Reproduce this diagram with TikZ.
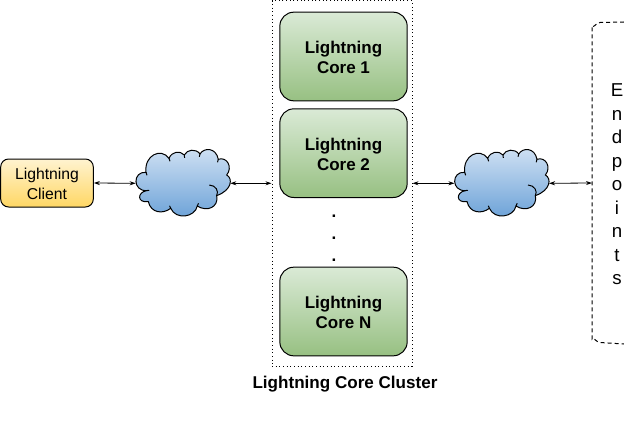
\documentclass[tikz,border=0pt]{standalone}
\usepackage{fontspec}
\setmainfont{Liberation Sans}
\usepackage{xcolor}
\usetikzlibrary{positioning,arrows.meta,calc}
\definecolor{coreTop}{RGB}{218,234,214}
\definecolor{coreBot}{RGB}{151,192,130}
\definecolor{clientTop}{RGB}{255,243,208}
\definecolor{clientBot}{RGB}{255,215,100}
\definecolor{cloudTop}{RGB}{208,225,243}
\definecolor{cloudBot}{RGB}{105,160,215}
% bumpy outline, drawn round a named node
\newcommand{\netcloud}[1]{%
\begin{scope}[shift={(#1.center)}]
\draw[puff,top color=cloudTop,bottom color=cloudBot] (-36.3,7.3)
  .. controls (-50.5,8) and (-50.5,-12) .. (-37,-11)
  .. controls (-39,-28) and (-22,-36) .. (-14,-25)
  .. controls (-11,-32) and (-3,-33) .. (1.3,-28.3)
  .. controls (4,-34) and (13,-35) .. (17,-29.3)
  .. controls (21,-36) and (33,-36) .. (35.3,-24)
  .. controls (44,-27) and (50,-16) .. (43.7,-8.3)
  .. controls (50,-5) and (49,7) .. (33.7,12.3)
  .. controls (36,24) and (24,29) .. (14.3,22.7)
  .. controls (12,34) and (-7,37) .. (-12.3,25)
  .. controls (-20,31) and (-32,30) .. (-34.7,18.3)
  .. controls (-46,20) and (-46,9) .. cycle;
\draw[puff] (26.3,1.7) .. controls (33,2) and (36,8) .. (33.7,12.3);
\draw[puff] (-37,-11) -- (-36,-8) (-14,-25) -- (-13,-22) (1.3,-28.3) -- (1.6,-25.5) (17,-29.3) -- (16.3,-26.5) (35.3,-24) -- (34.5,-21) (14.3,22.7) -- (15.5,20) (-12.3,25) -- (-13.4,22.5) (-36.3,7.3) -- (-34,7);
\end{scope}}

\begin{document}
\begin{tikzpicture}[x=0.75pt,y=-0.75pt,
  core/.style={draw=black,line width=0.75pt,top color=coreTop,bottom color=coreBot,rounded corners=10.5pt,minimum width=95.5pt,minimum height=66.5pt,align=center,inner sep=0pt,text height=25.8pt,font=\fontsize{12.75}{15}\selectfont\bfseries},
  client/.style={draw=black,line width=0.75pt,top color=clientTop,bottom color=clientBot,rounded corners=6pt,minimum width=69.5pt,minimum height=36pt,align=center,inner sep=0pt,text height=25.6pt,font=\fontsize{11.8}{15}\selectfont},
  net/.style={minimum width=70.5pt,minimum height=49pt,inner sep=0pt},
  puff/.style={line width=0.75pt},
  link/.style={{Stealth[length=4.5pt,width=3pt]}-{Stealth[length=4.5pt,width=3pt]},line width=0.6pt}]
\useasboundingbox (0,0) rectangle (624,435);
% cores
\node[core] (core1) at (343.5,56.5) {Lightning\\Core 1};
\node[core,below=5.25pt of core1] (core2) {Lightning\\Core 2};
\node[core,below=51.5pt of core2] (coreN) {Lightning\\Core N};
\node[inner sep=0pt,align=center,font=\fontsize{12.75}{16.5}\selectfont\bfseries] (dots) at (334,238.5) {.\\.\\.};
\node[draw=black,dotted,line width=0.75pt,minimum width=105pt,minimum height=274.2pt,inner sep=0pt] (cluster) at (342,183.4) {};
\node[font=\fontsize{12.8}{15}\selectfont\bfseries,inner sep=0pt] (clusterlabel) at (345,384.5) {Lightning Core Cluster};
% client and clouds
\node[client] (client) at (47,183) {Lightning\\Client};
\node[net] (net1) at (183,183.3) {};
\node[net] (net2) at (501.7,183.3) {};
\netcloud{net1}
\netcloud{net2}
% endpoints
\coordinate (ep) at (592,183);
\coordinate (eptop) at (624,22);
\coordinate (epbot) at (624,344);
\draw[dash pattern=on 3pt off 2.25pt,line width=0.75pt] (eptop) -- (600,22.5) to[out=180,in=-90] (592,26) -- (ep) -- (592,339) to[out=90,in=180] (600,342.5) -- (epbot);
\node[inner sep=0pt,align=center,font=\fontsize{14}{17.6}\selectfont] (eptext) at (617,184.5) {E\\n\\d\\p\\o\\i\\n\\t\\s};
% links
\draw[link] (client.east) -- (net1.west);
\draw[link] (net1.east) -- (net1.east -| cluster.west);
\draw[link] (net2.west -| cluster.east) -- (net2.west);
\draw[link] (net2.east) -- (ep);
\end{tikzpicture}
\end{document}
